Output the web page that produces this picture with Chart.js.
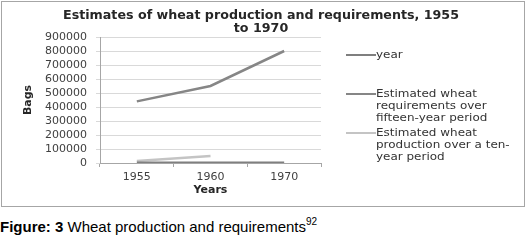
<!DOCTYPE html>
<html>
<head>
<meta charset="utf-8">
<script src="https://cdn.jsdelivr.net/npm/chart.js@4"></script>
<style>
  body { margin: 0; background: #fff; width: 526px; height: 241px; overflow: hidden; position: relative; }
  #box { position: absolute; left: 1px; top: 1px; width: 522px; height: 204px; border: 1px solid #a6a6a6; }
  #box canvas { position: absolute; left: 0; top: 0; }
  #legend { position: absolute; left: 344px; top: 44px; font-family: 'DejaVu Sans', sans-serif; font-size: 10.5px; color: #333; }
  .item { position: absolute; left: 0; display: flex; align-items: flex-start; width: 200px; line-height: 12px; }
  .swatch { width: 30px; height: 2px; margin-top: 6px; flex: none; }
  .txt { transform: scaleX(1.14); transform-origin: left top; white-space: nowrap; }
  #caption { position: absolute; left: 0; top: 218px; font-family: 'Liberation Sans', Arial, sans-serif; font-size: 15px; color: #000; white-space: nowrap; }
  #caption sup { font-size: 10px; vertical-align: 7px; line-height: 0; }
</style>
</head>
<body>
<div id="box">
  <canvas id="wheatChart" width="522" height="204"></canvas>
  <div id="legend"></div>
</div>
<div id="caption"><b>Figure: 3</b> Wheat production and requirements<sup>92</sup></div>
<script>
// data
const years = ['1955', '1960', '1970'];
const yearSeries = [1955, 1960, 1970];
const requirements = [440000, 550000, 800000];
const production = [15000, 50000, null];
const seriesNames = [
  'year',
  'Estimated wheat requirements over fifteen-year period',
  'Estimated wheat production over a ten-year period'
];
const seriesColors = ['#7f7f7f', '#868686', '#c4c4c4'];
const legendWraps = [
  ['year'],
  ['Estimated wheat', 'requirements over', 'fifteen-year period'],
  ['Estimated wheat', 'production over a ten-', 'year period']
];
const legendTops = [2, 41, 80];
const titleLines = ['Estimates of wheat production and requirements, 1955', 'to 1970'];

Chart.defaults.font.family = "'DejaVu Sans', sans-serif";
Chart.defaults.color = '#404040';

// title drawn by hand, stretched sideways like the original
const titlePlugin = {
  id: 'twoLineTitle',
  afterDraw(chart) {
    const ctx = chart.ctx;
    ctx.save();
    ctx.font = "bold 12px 'DejaVu Sans', sans-serif";
    ctx.fillStyle = '#262626';
    ctx.textBaseline = 'middle';
    const sx = 396 / ctx.measureText(titleLines[0]).width;
    const cx = 259;
    [[titleLines[0], 14], [titleLines[1], 27]].forEach(([t, y]) => {
      const w = ctx.measureText(t).width * sx;
      ctx.save();
      ctx.translate(cx - w / 2, y);
      ctx.scale(sx, 1);
      ctx.fillText(t, 0, 0);
      ctx.restore();
    });
    ctx.restore();
  }
};

const chart = new Chart(document.getElementById('wheatChart'), {
  type: 'line',
  data: {
    labels: years,
    datasets: [
      { label: seriesNames[0], data: yearSeries, borderColor: seriesColors[0] },
      { label: seriesNames[1], data: requirements, borderColor: seriesColors[1] },
      { label: seriesNames[2], data: production, borderColor: seriesColors[2] }
    ].map(ds => ({ ...ds, borderWidth: 2.5, pointRadius: 0, tension: 0, fill: false, spanGaps: false }))
  },
  options: {
    responsive: false,
    animation: false,
    layout: { padding: { top: 35, right: 203, left: 20, bottom: 4 } },
    plugins: { legend: { display: false }, tooltip: { enabled: false } },
    scales: {
      x: {
        offset: true,
        grid: { offset: true, drawOnChartArea: false, drawTicks: true, tickLength: 4, color: '#a6a6a6' },
        border: { color: '#a6a6a6' },
        ticks: { font: { size: 11 }, color: '#404040', padding: 4 },
        title: { display: true, text: 'Years', font: { size: 11, weight: 'bold' }, color: '#262626', padding: { top: 0, bottom: 5 } },
        afterFit(scale) { scale.height = 39; }
      },
      y: {
        min: 0,
        max: 900000,
        grid: { color: '#d9d9d9', tickLength: 4, drawTicks: true },
        border: { color: '#a6a6a6' },
        ticks: { stepSize: 100000, autoSkip: false, font: { size: 11 }, color: '#404040', padding: 9, callback: v => String(v) },
        title: { display: true, text: 'Bags', font: { size: 11, weight: 'bold' }, color: '#262626', padding: { top: 0, bottom: 0 } },
        afterFit(scale) { scale.width = 78; }
      }
    }
  },
  plugins: [titlePlugin]
});

// legend built from the series names
const legend = document.getElementById('legend');
seriesNames.forEach((name, i) => {
  const item = document.createElement('div');
  item.className = 'item';
  item.style.top = legendTops[i] + 'px';
  const sw = document.createElement('div');
  sw.className = 'swatch';
  sw.style.background = seriesColors[i];
  const txt = document.createElement('div');
  txt.className = 'txt';
  txt.innerHTML = legendWraps[i].join('<br>');
  item.appendChild(sw);
  item.appendChild(txt);
  legend.appendChild(item);
});
</script>
</body>
</html>
